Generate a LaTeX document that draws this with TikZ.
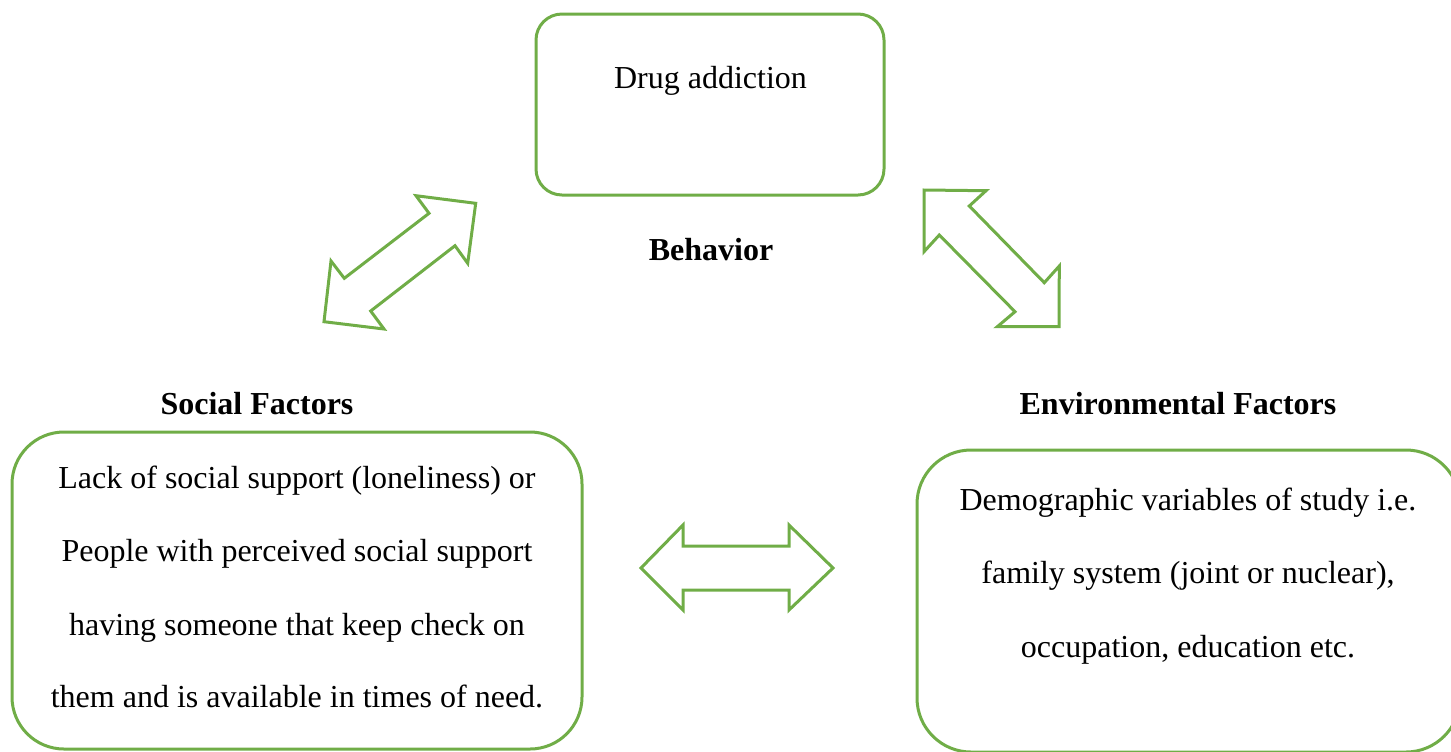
\documentclass[tikz,border=0pt]{standalone}
\usepackage{fontspec}
\setmainfont{Liberation Serif}[Ligatures=TeX]
\newfontfamily\tnr{Liberation Serif}
\definecolor{grn}{HTML}{70AD47}
\begin{document}
\begin{tikzpicture}[x=0.5pt,y=-0.5pt,
  box/.style={draw=grn, line width=1.5pt, inner sep=0pt, outer sep=0pt},
  txt/.style={anchor=base, inner sep=0pt, font=\tnr\fontsize{16pt}{19pt}\selectfont},
  lbl/.style={anchor=base, inner sep=0pt, font=\tnr\fontsize{16pt}{19pt}\selectfont\bfseries},
  blockarrow/.style={draw=grn, line width=1.5pt, line join=miter}]
\useasboundingbox (0,0) rectangle (1451,751);
\clip (0,0) rectangle (1451,751);

% boxes
\node[box, minimum width=174pt, minimum height=90.5pt, rounded corners=13pt] (top) at (710,104.5) {};
\node[box, minimum width=285pt, minimum height=158.5pt, rounded corners=26pt] (social) at (297,590.5) {};
\node[box, minimum width=271.5pt, minimum height=151pt, rounded corners=27pt] (env) at (1188.5,601) {};

% texts
\node[txt] (t1) at (710.5,88) {Drug addiction};
\node[lbl] (beh) at (711,260) {Behavior};
\node[lbl] (soclbl) at (257,414) {Social Factors};
\node[lbl] (envlbl) at (1178,414) {Environmental Factors};

\node[txt] (s1) at (297,488) {Lack of social support (loneliness) or};
\node[txt] (s2) at (297,561.5) {People with perceived social support};
\node[txt] (s3) at (297,635) {having someone that keep check on};
\node[txt] (s4) at (297,707.5) {them and is available in times of need.};

\node[txt] (e1) at (1188,510) {Demographic variables of study i.e.};
\node[txt] (e2) at (1188,583.5) {family system (joint or nuclear),};
\node[txt] (e3) at (1188,657) {occupation, education etc.};

% block arrows
\draw[blockarrow] (475.7,203.3) -- (416,195.7) -- (429,213.3) -- (344.3,278.3) -- (331,261)
  -- (324,321.7) -- (384,329) -- (370.7,311) -- (455,245.7) -- (467.7,263.3) -- cycle;
\draw[blockarrow] (924,190) -- (986,190.7) -- (969.3,206) -- (1044.3,282.7) -- (1059.3,266)
  -- (1059,326.7) -- (997.3,326.7) -- (1015,311.7) -- (939.3,235) -- (924,251.7) -- cycle;
\draw[blockarrow] (641,568) -- (683,525) -- (683,546) -- (789,546) -- (789,525) -- (833,568)
  -- (789,610) -- (789,590) -- (683,590) -- (683,610) -- cycle;
\end{tikzpicture}
\end{document}
